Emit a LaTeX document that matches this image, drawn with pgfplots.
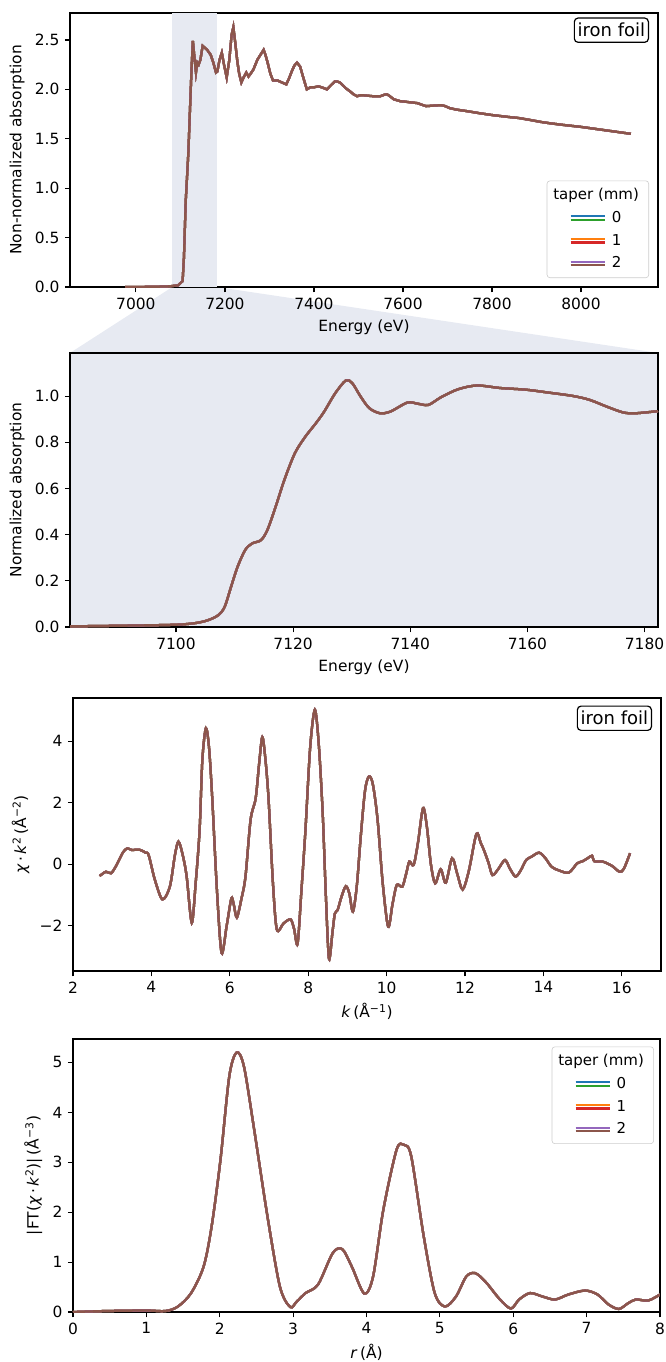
\documentclass[border=0pt]{standalone}
\usepackage{fontspec}
\setmainfont{DejaVu Sans}
\usepackage{pgfplots}
\pgfplotsset{compat=1.18}
\usepackage{pgfplotstable}
\usetikzlibrary{backgrounds}

\definecolor{tabblue}{RGB}{31,119,180}
\definecolor{taborange}{RGB}{255,127,14}
\definecolor{tabgreen}{RGB}{44,160,44}
\definecolor{tabred}{RGB}{214,39,40}
\definecolor{tabpurple}{RGB}{148,103,189}
\definecolor{tabbrown}{RGB}{140,86,75}
\definecolor{zoombg}{RGB}{231,234,242}
\definecolor{legframe}{RGB}{204,204,204}

\pgfplotstableread{
x y
6976 0.0
7040 0.002
7076 0.007
7095 0.017
7105 0.06
7108 0.30
7112 0.87
7116 1.20
7118 1.37
7122 1.85
7125 2.20
7128 2.49
7131 2.35
7135 2.17
7138 2.27
7141 2.25
7145 2.30
7150 2.44
7155 2.42
7160 2.40
7168 2.35
7174 2.27
7180 2.17
7183 2.18
7188 2.30
7193 2.37
7198 2.25
7204 2.12
7210 2.30
7215 2.55
7219 2.63
7223 2.48
7228 2.28
7232 2.16
7237 2.07
7242 2.12
7248 2.17
7253 2.13
7258 2.16
7264 2.20
7273 2.30
7280 2.35
7287 2.40
7291 2.35
7296 2.27
7302 2.16
7308 2.09
7318 2.09
7328 2.07
7338 2.05
7344 2.11
7350 2.18
7356 2.24
7362 2.27
7369 2.23
7376 2.12
7384 2.00
7392 2.02
7399 2.02
7410 2.03
7418 2.02
7429 2.00
7440 2.05
7447 2.08
7452 2.08
7458 2.07
7463 2.05
7472 2.01
7481 1.98
7489 1.95
7497 1.93
7504 1.94
7511 1.94
7522 1.935
7534 1.93
7549 1.93
7558 1.945
7564 1.95
7571 1.93
7579 1.90
7594 1.88
7605 1.875
7614 1.87
7624 1.865
7633 1.86
7642 1.845
7652 1.83
7668 1.835
7686 1.84
7695 1.83
7705 1.81
7720 1.795
7743 1.78
7770 1.76
7800 1.74
7838 1.72
7860 1.71
7886 1.69
7910 1.67
7933 1.655
7960 1.64
8000 1.62
8048 1.59
8080 1.57
8112 1.55
}\rawtable

\pgfplotstableread{
x y
7081.9 0.003
7091.7 0.006
7100.0 0.010
7103.3 0.017
7105.4 0.029
7107.2 0.051
7108.3 0.087
7109.4 0.174
7110.5 0.260
7111.8 0.333
7113.0 0.362
7114.5 0.376
7115.6 0.420
7117.0 0.520
7118.5 0.637
7120.3 0.753
7122.1 0.825
7123.9 0.883
7125.3 0.933
7127.2 1.013
7129.0 1.068
7130.1 1.056
7131.5 0.999
7133.0 0.948
7134.8 0.926
7136.6 0.933
7139.5 0.972
7141.3 0.967
7143.1 0.962
7145.3 0.996
7148.2 1.030
7151.4 1.046
7155.4 1.035
7159.7 1.028
7163.4 1.016
7167.7 1.001
7170.6 0.984
7173.5 0.955
7176.4 0.929
7178.6 0.926
7182.3 0.935
}\normtable

\pgfplotstableread{
x y
2.68 -0.38
2.84 -0.24
2.97 -0.29
3.10 -0.05
3.28 0.40
3.39 0.52
3.49 0.47
3.71 0.47
3.85 0.38
3.93 0.30
4.09 -0.51
4.28 -1.14
4.47 -0.73
4.60 0.30
4.69 0.74
4.80 0.30
4.90 -0.40
5.03 -1.90
5.13 -0.60
5.23 1.12
5.30 3.40
5.39 4.43
5.47 3.80
5.55 2.20
5.67 -0.80
5.79 -2.88
5.92 -2.00
6.04 -1.11
6.10 -1.30
6.18 -1.73
6.30 -1.10
6.40 -0.40
6.53 1.45
6.66 2.15
6.75 3.30
6.83 4.14
6.91 3.40
6.99 2.10
7.10 -0.60
7.20 -2.12
7.37 -1.92
7.55 -1.79
7.64 -2.10
7.73 -2.58
7.83 -0.80
7.93 1.12
8.05 3.80
8.17 5.03
8.27 3.90
8.37 1.66
8.45 -1.00
8.53 -3.07
8.62 -2.20
8.68 -1.60
8.75 -1.49
8.85 -1.05
8.96 -0.71
9.05 -0.95
9.14 -1.54
9.24 -0.70
9.34 0.90
9.45 2.40
9.55 2.86
9.65 2.60
9.77 1.45
9.90 -0.60
10.04 -2.03
10.15 -1.30
10.26 -0.67
10.40 -0.73
10.50 -0.30
10.58 0.09
10.69 -0.02
10.80 0.70
10.93 1.83
11.03 1.20
11.13 0.00
11.24 -0.62
11.38 -0.16
11.51 -0.60
11.67 0.20
11.80 -0.30
11.94 -0.82
12.10 -0.20
12.29 0.99
12.40 0.70
12.48 0.47
12.60 0.05
12.70 -0.35
12.85 -0.15
13.02 0.14
13.15 -0.15
13.29 -0.40
13.42 -0.20
13.56 0.14
13.70 0.25
13.89 0.38
14.05 0.20
14.21 -0.08
14.40 -0.20
14.65 -0.27
14.86 0.03
15.00 0.10
15.13 0.20
15.24 0.28
15.30 0.10
15.51 0.09
15.75 -0.05
15.94 -0.24
16.05 -0.15
16.21 0.36
}\chitable

\pgfplotstableread{
x y
0.00 0.00
0.45 0.02
1.00 0.03
1.26 0.02
1.43 0.11
1.61 0.38
1.78 0.91
1.89 1.72
2.01 3.05
2.13 4.72
2.23 5.20
2.33 4.92
2.47 3.65
2.65 1.92
2.82 0.51
2.96 0.10
3.05 0.21
3.17 0.38
3.34 0.55
3.54 1.18
3.67 1.26
3.80 0.91
3.97 0.37
4.09 0.71
4.23 2.05
4.41 3.25
4.51 3.35
4.61 3.12
4.78 1.52
4.93 0.38
5.07 0.11
5.22 0.31
5.36 0.71
5.48 0.78
5.62 0.61
5.82 0.25
5.97 0.07
6.08 0.25
6.23 0.38
6.40 0.31
6.57 0.25
6.75 0.35
6.98 0.43
7.15 0.35
7.30 0.15
7.44 0.06
7.56 0.17
7.67 0.25
7.84 0.23
8.00 0.35
}\fttable

\newcommand\sixplots[2]{%
  \addplot[tabblue,forget plot,#2] table {#1};
  \addplot[taborange,forget plot,#2] table {#1};
  \addplot[tabgreen,forget plot,#2] table {#1};
  \addplot[tabred,forget plot,#2] table {#1};
  \addplot[tabpurple,forget plot,#2] table {#1};
  \addplot[tabbrown,forget plot,#2] table {#1};
}

\pgfplotsset{
  legA/.style={legend image code/.code={%
    \path[draw=none,fill=none] (0pt,0pt) -- (36.7pt,0pt);
    \draw[tabblue,line width=1.5pt] (11.3pt,1.2pt)--(34pt,1.2pt);
    \draw[tabgreen,line width=1.5pt] (11.3pt,-1.2pt)--(34pt,-1.2pt);}},
  legB/.style={legend image code/.code={%
    \path[draw=none,fill=none] (0pt,0pt) -- (36.7pt,0pt);
    \draw[taborange,line width=1.5pt] (11.3pt,1.2pt)--(34pt,1.2pt);
    \draw[tabred,line width=1.5pt] (11.3pt,-1.2pt)--(34pt,-1.2pt);}},
  legC/.style={legend image code/.code={%
    \path[draw=none,fill=none] (0pt,0pt) -- (36.7pt,0pt);
    \draw[tabpurple,line width=1.5pt] (11.3pt,1.2pt)--(34pt,1.2pt);
    \draw[tabbrown,line width=1.5pt] (11.3pt,-1.2pt)--(34pt,-1.2pt);}},
}
\newcommand\taperlegend{%
  \addlegendimage{empty legend}\addlegendentry{\hspace*{-39pt}taper (mm)}
  \addlegendimage{legA}\addlegendentry{0}
  \addlegendimage{legB}\addlegendentry{1}
  \addlegendimage{legC}\addlegendentry{2}
}

\tikzset{
  boxlabel/.style={draw=black, line width=0.8pt, rounded corners=2.5pt, fill=white,
    font=\fontsize{12}{14}\selectfont, inner xsep=2.2pt, inner ysep=3.6pt,
    text height=9pt, text depth=0pt, anchor=north east},
}
\pgfplotsset{
  mpl/.style={
    scale only axis,
    axis line style={line width=0.8pt},
    every tick/.style={black,line width=0.8pt},
    tick align=outside,
    major tick length=3.5pt,
    xtick pos=left, ytick pos=left,
    minor tick num=0,
    tick label style={font=\fontsize{10.3}{12}\selectfont},
    label style={font=\fontsize{10.3}{12}\selectfont},
    /pgf/number format/assume math mode=true,
    /pgf/number format/1000 sep={},
    scaled ticks=false,
    every axis plot/.append style={line width=1.5pt},
    legend cell align=left,
    legend style={draw=legframe, fill=white, fill opacity=0.8, text opacity=1,
      rounded corners=2pt, font=\fontsize{10}{12}\selectfont,
      row sep=2.3pt, inner xsep=4.5pt, inner ysep=3pt},
  },
}

\begin{document}
\begin{tikzpicture}
\path[use as bounding box] (0pt,0pt) rectangle (443.56pt,-908.45pt);

% Panel 1
\begin{axis}[mpl,
  at={(46.69pt,-191.43pt)}, anchor=south west,
  width=392.2pt, height=182.8pt,
  xmin=6852, xmax=8173, ymin=0, ymax=2.773,
  xtick={7000,7200,7400,7600,7800,8000},
  ytick={0,0.5,1.0,1.5,2.0,2.5},
  yticklabel style={/pgf/number format/.cd,fixed,fixed zerofill,precision=1},
  xlabel={Energy (eV)}, ylabel={Non-normalized absorption},
  legend style={at={(1,0)}, anchor=south east, xshift=-6pt, yshift=6pt},
]
\fill[zoombg] (axis cs:7082,0) rectangle (axis cs:7182.3,2.773);
\sixplots{\rawtable}{}
\taperlegend
\coordinate (z1) at (axis cs:7082,0);
\coordinate (z2) at (axis cs:7182.3,0);
\node[boxlabel] at (rel axis cs:1,1) [xshift=-6pt, yshift=-3pt] {iron foil};
\end{axis}

% Panel 2
\begin{axis}[mpl,
  at={(46.69pt,-418.21pt)}, anchor=south west,
  width=392.2pt, height=182.8pt,
  axis background/.style={fill=zoombg},
  xmin=7081.9, xmax=7182.3, ymin=0, ymax=1.187,
  xtick={7100,7120,7140,7160,7180},
  ytick={0,0.2,0.4,0.6,0.8,1.0},
  yticklabel style={/pgf/number format/.cd,fixed,fixed zerofill,precision=1},
  xlabel={Energy (eV)}, ylabel={Normalized absorption},
]
\sixplots{\normtable}{smooth}
\coordinate (z3) at (rel axis cs:1,1);
\coordinate (z4) at (rel axis cs:0,1);
\end{axis}

\begin{scope}[on background layer]
\fill[zoombg] (z1)--(z2)--(z3)--(z4)--cycle;
\end{scope}

% Panel 3
\begin{axis}[mpl,
  at={(48.69pt,-647.66pt)}, anchor=south west,
  width=392.2pt, height=182.1pt,
  xmin=2, xmax=17, ymin=-3.47, ymax=5.41,
  xtick={2,4,6,8,10,12,14,16},
  ytick={-2,0,2,4}, yticklabels={−2,0,2,4},
  xlabel={\textit{k}\,(Å\textsuperscript{−1})},
  ylabel={\textit{χ}\,·\,\textit{k}\textsuperscript{2}\,(Å\textsuperscript{−2})},
]
\sixplots{\chitable}{smooth}
\node[boxlabel] at (rel axis cs:1,1) [xshift=-6pt, yshift=-5pt] {iron foil};
\end{axis}

% Panel 4
\begin{axis}[mpl,
  at={(48.69pt,-875.10pt)}, anchor=south west,
  width=391.5pt, height=182.1pt,
  xmin=0, xmax=8, ymin=0, ymax=5.47,
  xtick={0,1,2,3,4,5,6,7,8},
  ytick={0,1,2,3,4,5},
  xlabel={\textit{r}\,(Å)},
  ylabel={|FT(\textit{χ}\,·\,\textit{k}\textsuperscript{2})|\,(Å\textsuperscript{−3})},
  legend style={at={(1,1)}, anchor=north east, xshift=-4pt, yshift=-5pt},
]
\sixplots{\fttable}{smooth}
\taperlegend
\end{axis}
\end{tikzpicture}
\end{document}
